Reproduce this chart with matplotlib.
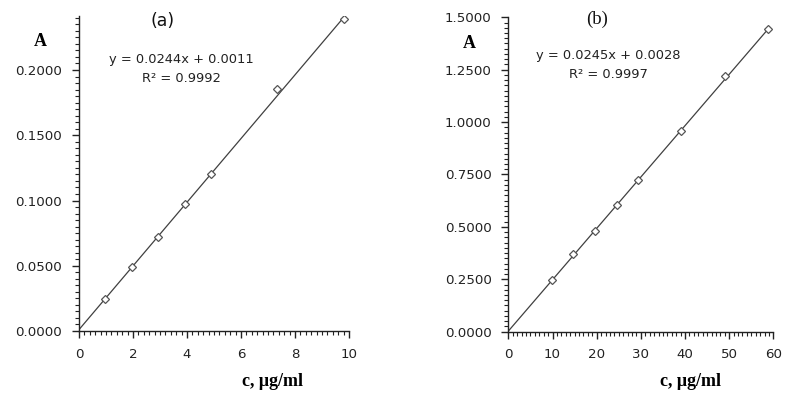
import numpy as np
import matplotlib
matplotlib.use("Agg")
import matplotlib.pyplot as plt
from matplotlib.ticker import MultipleLocator, FormatStrFormatter

# data
c_a = [0.98, 1.96, 2.94, 3.92, 4.90, 7.35, 9.80]
A_a = [0.0248, 0.0488, 0.0723, 0.0973, 0.1200, 0.1854, 0.2389]
fit_a = [0.0244, 0.0011]  # slope, intercept
r2_a = 0.9992

c_b = [9.8, 14.7, 19.6, 24.5, 29.4, 39.2, 49.0, 58.8]
A_b = [0.245, 0.372, 0.482, 0.606, 0.723, 0.958, 1.221, 1.443]
fit_b = [0.0245, 0.0028]
r2_b = 0.9997

plt.rcParams['font.family'] = ['DejaVu Sans']
plt.rcParams['font.size'] = 9.6

W, H = 788, 396
fig = plt.figure(figsize=(7.88, 3.96), dpi=100)
ax1 = fig.add_axes([0.1003, 0.1641, 0.3426, 0.7955])
ax2 = fig.add_axes([0.6451, 0.1624, 0.3363, 0.7940])


def draw(ax, x, y, fit, r2, xmax, ymax, xmaj, xmin_, ymaj, ymin_, eqx, eqy1, eqy2):
    xs = np.array([0, max(x)])
    ax.plot(xs, fit[0] * xs + fit[1], color='#404040', lw=0.9, zorder=2)
    ax.plot(x, y, ls='none', marker='D', ms=3.6, mfc='white', mec='#555555',
            mew=0.9, zorder=3)
    ax.set_xlim(0, xmax)
    ax.set_ylim(0, ymax)
    ax.xaxis.set_major_locator(MultipleLocator(xmaj))
    ax.xaxis.set_minor_locator(MultipleLocator(xmin_))
    ax.yaxis.set_major_locator(MultipleLocator(ymaj))
    ax.yaxis.set_minor_locator(MultipleLocator(ymin_))
    ax.yaxis.set_major_formatter(FormatStrFormatter('%.4f'))
    for s in ['top', 'right']:
        ax.spines[s].set_visible(False)
    for s in ['left', 'bottom']:
        ax.spines[s].set_color('#222222')
        ax.spines[s].set_linewidth(1.0)
    ax.tick_params(which='major', direction='out', length=5, width=1.0,
                   color='#222222', labelcolor='#222222', pad=7,
                   labelsize=9.6)
    ax.tick_params(which='minor', direction='out', length=3, width=0.8,
                   color='#222222')
    # trendline label, two lines like Excel
    fig.text(eqx / W, 1 - eqy1 / H, 'y = %.4fx + %.4f' % (fit[0], fit[1]),
             ha='center', va='center', fontsize=9.4, color='#222222')
    fig.text(eqx / W, 1 - eqy2 / H, 'R² = %.4f' % r2,
             ha='center', va='center', fontsize=9.4, color='#222222')


draw(ax1, c_a, A_a, fit_a, r2_a, 10, 0.2414, 2, 0.2, 0.05, 0.005,
     181, 59, 79)
draw(ax2, c_b, A_b, fit_b, r2_b, 60, 1.5, 10, 1, 0.25, 0.025,
     608, 55, 74)

fig.text(163 / W, 1 - 21 / H, '(a)', ha='center', va='center',
         fontsize=12.5, family='DejaVu Sans', color='#111111')
fig.text(597 / W, 1 - 19 / H, '(b)', ha='center', va='center',
         fontsize=13.5, family='Liberation Serif', color='#111111')
fig.text(40 / W, 1 - 41 / H, 'A', ha='center', va='center', fontsize=13,
         family='Liberation Serif', weight='bold')
fig.text(469 / W, 1 - 43 / H, 'A', ha='center', va='center', fontsize=13,
         family='Liberation Serif', weight='bold')
fig.text(272 / W, 1 - 382 / H, 'c, μg/ml', ha='center', va='center',
         fontsize=13, family='Liberation Serif', weight='bold')
fig.text(691 / W, 1 - 382 / H, 'c, μg/ml', ha='center', va='center',
         fontsize=13, family='Liberation Serif', weight='bold')

fig.savefig('out.png', dpi=100)
